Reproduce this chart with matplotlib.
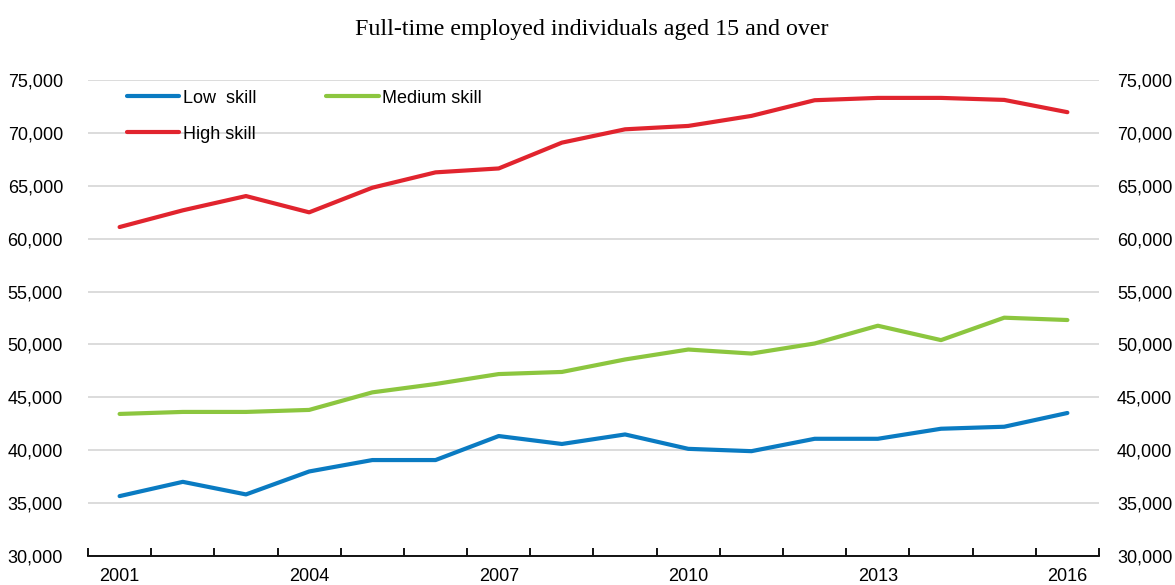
import matplotlib
matplotlib.use('Agg')
import matplotlib.pyplot as plt
from matplotlib.ticker import FuncFormatter, FixedLocator

# Data
years = list(range(2001, 2017))
low_skill = [35660, 37010, 35820, 37990, 39070, 39070, 41340, 40590,
             41490, 40130, 39910, 41080, 41080, 42030, 42220, 43520]
medium_skill = [43430, 43620, 43620, 43810, 45470, 46260, 47200, 47400,
                48580, 49520, 49140, 50090, 51770, 50410, 52530, 52310]
high_skill = [61100, 62680, 64030, 62490, 64820, 66270, 66640, 69080,
              70340, 70660, 71610, 73090, 73310, 73310, 73120, 71960]
year_labels = [2001, 2004, 2007, 2010, 2013, 2016]
y_ticks = list(range(30000, 75001, 5000))

plt.rcParams['font.family'] = ['Liberation Sans', 'DejaVu Sans']

BLUE = '#0A7BC2'
GREEN = '#8CC63F'
RED = '#E1242E'
FS = 13

fig = plt.figure(figsize=(11.75, 5.85), dpi=100)
ax = fig.add_axes([0.0749, 0.0496, 0.8604, 0.8136])

l_low, = ax.plot(years, low_skill, color=BLUE, lw=3.0, solid_capstyle='round')
l_med, = ax.plot(years, medium_skill, color=GREEN, lw=3.0, solid_capstyle='round')
l_high, = ax.plot(years, high_skill, color=RED, lw=3.0, solid_capstyle='round')

ax.set_xlim(2000.5, 2016.5)
ax.set_ylim(30000, 75000)
ax.set_yticks(y_ticks)
ax.yaxis.set_major_formatter(FuncFormatter(lambda v, p: f'{int(v):,}'))
ax.tick_params(axis='y', length=0, pad=18, labelsize=FS)
ax.grid(axis='y', color='#d9d9d9', lw=1.3)
ax.set_axisbelow(True)

# x axis: tick marks between years, labels every third year
ax.xaxis.set_major_locator(FixedLocator([y + 0.5 for y in range(2000, 2017)]))
ax.xaxis.set_minor_locator(FixedLocator(year_labels))
ax.xaxis.set_major_formatter(FuncFormatter(lambda v, p: ''))
ax.xaxis.set_minor_formatter(FuncFormatter(lambda v, p: str(int(round(v)))))
ax.tick_params(axis='x', which='major', direction='in', length=6, width=1.3,
               color='black')
ax.tick_params(axis='x', which='minor', length=0, pad=9, labelsize=FS)

for s in ['top', 'left', 'right']:
    ax.spines[s].set_visible(False)
ax.spines['bottom'].set_linewidth(1.3)

ax2 = ax.twinx()
ax2.set_ylim(ax.get_ylim())
ax2.set_yticks(y_ticks)
ax2.yaxis.set_major_formatter(FuncFormatter(lambda v, p: f'{int(v):,}'))
ax2.tick_params(axis='y', length=0, pad=13, labelsize=FS)
for s in ax2.spines.values():
    s.set_visible(False)

ax.legend([l_low, l_high, l_med], ['Low  skill', 'High skill', 'Medium skill'],
          ncol=2, loc='upper left', bbox_to_anchor=(0.031, 0.995),
          frameon=False, fontsize=FS, handlelength=2.9, handletextpad=0.2,
          columnspacing=3.9, labelspacing=1.05, borderaxespad=0)

fig.text(0.504, 0.95, 'Full-time employed individuals aged 15 and over',
         ha='center', va='center', fontsize=17.3, family='Liberation Serif')

fig.savefig('out.png', dpi=100)
